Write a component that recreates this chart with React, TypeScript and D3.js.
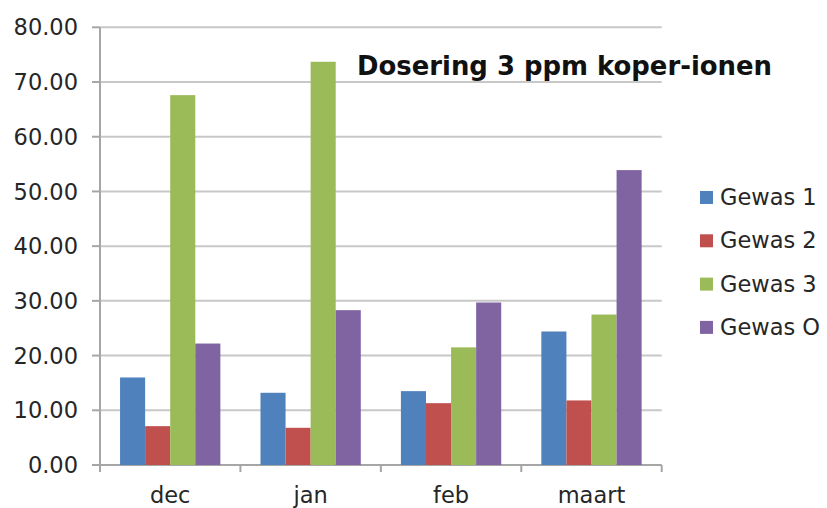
import React from "react";
import * as d3 from "d3";

const categories = ["dec", "jan", "feb", "maart"];
const seriesNames = ["Gewas 1", "Gewas 2", "Gewas 3", "Gewas O"];
const gewas1 = [16.0, 13.2, 13.5, 24.4];
const gewas2 = [7.1, 6.8, 11.3, 11.8];
const gewas3 = [67.6, 73.7, 21.5, 27.5];
const gewasO = [22.2, 28.3, 29.7, 53.9];
const colors = ["#4F81BD", "#C0504D", "#9BBB59", "#8064A2"];
const yTicks = [0, 10, 20, 30, 40, 50, 60, 70, 80];
const title = "Dosering 3 ppm koper-ionen";

export default function App() {
  const W = 827, H = 508;
  const left = 100, right = 661.7, top = 27.3, bottom = 465;
  const series = [gewas1, gewas2, gewas3, gewasO];
  const x = d3.scaleBand<string>().domain(categories).range([left, right]).paddingInner(0).paddingOuter(0);
  const inner = d3.scaleBand<number>().domain([0, 1, 2, 3]).range([0, x.bandwidth()]).paddingOuter(0.8).paddingInner(0);
  const y = d3.scaleLinear().domain([0, 80]).range([bottom, top]);
  const font = "Verdana, 'DejaVu Sans', sans-serif";
  return (
    <svg width={W} height={H} style={{ position: "absolute", left: 0, top: 0, background: "#fff" }}>
      {yTicks.map((t) => (
        <g key={t}>
          <line x1={left} x2={right} y1={y(t)} y2={y(t)} stroke={t === 0 ? "#A6A6A6" : "#C8C8C8"} strokeWidth={2} />
          <line x1={left - 8} x2={left} y1={y(t)} y2={y(t)} stroke="#A6A6A6" strokeWidth={2} />
          <text x={78} y={y(t)} dy="0.36em" textAnchor="end" fontFamily={font} fontSize={22.5} fill="#262626">
            {t.toFixed(2)}
          </text>
        </g>
      ))}
      <line x1={left} x2={left} y1={top} y2={bottom} stroke="#A6A6A6" strokeWidth={2} />
      {categories.map((c) => (
        <line key={c} x1={x(c)!} x2={x(c)!} y1={bottom} y2={bottom + 7} stroke="#A6A6A6" strokeWidth={2} />
      ))}
      <line x1={right} x2={right} y1={bottom} y2={bottom + 7} stroke="#A6A6A6" strokeWidth={2} />
      {categories.map((c, i) => (
        <g key={c}>
          {series.map((s, j) => (
            <rect key={j} x={x(c)! + inner(j)!} y={y(s[i])} width={inner.bandwidth()} height={y(0) - y(s[i])} fill={colors[j]} />
          ))}
          <text x={x(c)! + x.bandwidth() / 2} y={503} textAnchor="middle" fontFamily={font} fontSize={22.5} fill="#262626">
            {c}
          </text>
        </g>
      ))}
      <text x={357} y={75} fontFamily={font} fontSize={26} fontWeight="bold" fill="#111" textLength={415} lengthAdjust="spacingAndGlyphs">
        {title}
      </text>
      {seriesNames.map((n, j) => (
        <g key={n} transform={`translate(700, ${197 + j * 43.3})`}>
          <rect x={0} y={-6} width={13} height={13} fill={colors[j]} />
          <text x={20} y={0} dy="0.36em" fontFamily={font} fontSize={22.5} fill="#262626">
            {n}
          </text>
        </g>
      ))}
    </svg>
  );
}
